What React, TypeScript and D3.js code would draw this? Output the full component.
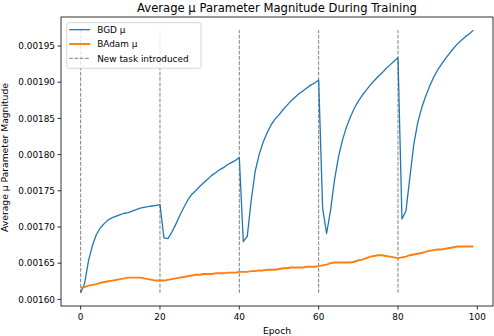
import React from 'react';
import * as d3 from 'd3';

const bgdMu = [
  0.001609, 0.001622, 0.001654, 0.001675, 0.00169, 0.001699, 0.001705, 0.00171, 0.001713, 0.001715,
  0.001717, 0.001719, 0.00172, 0.001722, 0.001724, 0.001726, 0.001727, 0.001728, 0.001729, 0.00173,
  0.001731, 0.001685, 0.001684, 0.001693, 0.001704, 0.001716, 0.001727, 0.001737, 0.001745, 0.00175,
  0.001756, 0.001761, 0.001766, 0.001771, 0.001775, 0.001779, 0.001782, 0.001786, 0.001789, 0.001792,
  0.001796, 0.00168, 0.001687, 0.001737, 0.001777, 0.0018, 0.001817, 0.00183, 0.001841, 0.001849,
  0.001855, 0.001862, 0.001868, 0.001874, 0.001879, 0.001884, 0.001888, 0.001892, 0.001896, 0.001899,
  0.001903, 0.001726, 0.001691, 0.001723, 0.001765, 0.001797, 0.00182, 0.001838, 0.001852, 0.001864,
  0.001874, 0.001882, 0.001889, 0.001896, 0.001902, 0.001908, 0.001913, 0.001919, 0.001924, 0.001929,
  0.001934, 0.001711, 0.001722, 0.001769, 0.001815, 0.001845, 0.001865, 0.001881, 0.001895, 0.001907,
  0.001917, 0.001925, 0.001933, 0.00194, 0.001947, 0.001953, 0.001958, 0.001963, 0.001967, 0.001972,
];

const badamMu = [
  0.001616, 0.001617, 0.001619, 0.00162, 0.001621, 0.001623, 0.001624, 0.001625, 0.001626, 0.001627,
  0.001628, 0.001629, 0.00163, 0.00163, 0.00163, 0.00163, 0.001629, 0.001628, 0.001627, 0.001626,
  0.001626, 0.001626, 0.001627, 0.001628, 0.001629, 0.00163, 0.001631, 0.001632, 0.001633, 0.001634,
  0.001634, 0.001635, 0.001635, 0.001635, 0.001636, 0.001636, 0.001636, 0.001637, 0.001637, 0.001637,
  0.001638, 0.001638, 0.001638, 0.001639, 0.001639, 0.00164, 0.00164, 0.001641, 0.001641, 0.001641,
  0.001642, 0.001643, 0.001643, 0.001644, 0.001644, 0.001644, 0.001644, 0.001645, 0.001645, 0.001645,
  0.001646, 0.001647, 0.001648, 0.00165, 0.001651, 0.001651, 0.001651, 0.001651, 0.001651, 0.001652,
  0.001654, 0.001655, 0.001657, 0.001659, 0.00166, 0.001661, 0.001661, 0.00166, 0.001659, 0.001658,
  0.001657, 0.001658, 0.001659, 0.001661, 0.001662, 0.001663, 0.001664, 0.001666, 0.001667, 0.001668,
  0.001669, 0.001669, 0.00167, 0.001671, 0.001672, 0.001673, 0.001673, 0.001673, 0.001673, 0.001673,
];

const taskStarts = [0, 20, 40, 60, 80];
const xTicks = [0, 20, 40, 60, 80, 100];
const yTicks = [0.0016, 0.00165, 0.0017, 0.00175, 0.0018, 0.00185, 0.0019, 0.00195];
const legendLabels = ['BGD \u03bc', 'BAdam \u03bc', 'New task introduced'];

const W = 494;
const H = 336;
const left = 61, right = 493, top = 17, bottom = 306;
const font = 'DejaVu Sans, sans-serif';

export default function App() {
  const epochs = bgdMu.map((_, i) => i);
  const all = bgdMu.concat(badamMu);
  const lo = d3.min(all) as number;
  const hi = d3.max(all) as number;
  const pad = (hi - lo) * 0.05;

  const x = d3.scaleLinear().domain([-4.95, 103.95]).range([left, right]);
  const y = d3.scaleLinear().domain([lo - pad, hi + pad]).range([bottom, top]);

  const line = d3.line<number>().x((_, i) => x(epochs[i])).y((d) => y(d));
  const bgdMin = d3.min(bgdMu) as number;
  const bgdMax = d3.max(bgdMu) as number;

  return (
    <div style={{ position: 'absolute', left: 0, top: 0 }}>
      <svg width={W} height={H} style={{ display: 'block', fontFamily: font }}>
        <rect width={W} height={H} fill="#fff" />
        {taskStarts.map((t) => (
          <line key={t} x1={x(t)} x2={x(t)} y1={y(bgdMin)} y2={y(bgdMax)}
            stroke="#7f7f7f" strokeWidth={1} strokeDasharray="3.7,1.6" />
        ))}
        <path d={line(bgdMu) || ''} fill="none" stroke="#1f77b4" strokeWidth={1.3} strokeLinejoin="round" />
        <path d={line(badamMu) || ''} fill="none" stroke="#ff7f0e" strokeWidth={1.9} strokeLinejoin="round" />

        <rect x={left} y={top} width={right - left} height={bottom - top} fill="none" stroke="#000" strokeWidth={0.8} />

        {xTicks.map((t) => (
          <g key={t}>
            <line x1={x(t)} x2={x(t)} y1={bottom} y2={bottom + 3.5} stroke="#000" strokeWidth={0.8} />
            <text x={x(t)} y={bottom + 14} fontSize={8.9} textAnchor="middle" fill="#000">{t}</text>
          </g>
        ))}
        {yTicks.map((t) => (
          <g key={t}>
            <line x1={left - 3.5} x2={left} y1={y(t)} y2={y(t)} stroke="#000" strokeWidth={0.8} />
            <text x={left - 6} y={y(t) + 3.2} fontSize={8.9} textAnchor="end" fill="#000">{t.toFixed(5)}</text>
          </g>
        ))}

        <text x={(left + right) / 2} y={12} fontSize={11.6} textAnchor="middle" fill="#000">
          Average μ Parameter Magnitude During Training
        </text>
        <text x={(left + right) / 2} y={334} fontSize={9.2} textAnchor="middle" fill="#000">Epoch</text>
        <text transform={`translate(8,${(top + bottom) / 2 - 4}) rotate(-90)`} fontSize={9.2} textAnchor="middle" fill="#000">
          Average μ Parameter Magnitude
        </text>

        <g transform="translate(66.7,22.7)">
          <rect width={134.3} height={45.6} rx={2} fill="#fff" fillOpacity={0.8} stroke="#cccccc" strokeWidth={0.8} />
          {legendLabels.map((lab, i) => (
            <g key={lab} transform={`translate(0,${7 + i * 14.3})`}>
              <line x1={2.5} x2={23.5} y1={0} y2={0}
                stroke={i === 0 ? '#1f77b4' : i === 1 ? '#ff7f0e' : '#7f7f7f'}
                strokeWidth={i === 0 ? 1.3 : i === 1 ? 1.9 : 1}
                strokeDasharray={i === 2 ? '3.7,1.6' : undefined} />
              <text x={30.5} y={3.2} fontSize={8.9} fill="#000">{lab}</text>
            </g>
          ))}
        </g>
      </svg>
    </div>
  );
}
